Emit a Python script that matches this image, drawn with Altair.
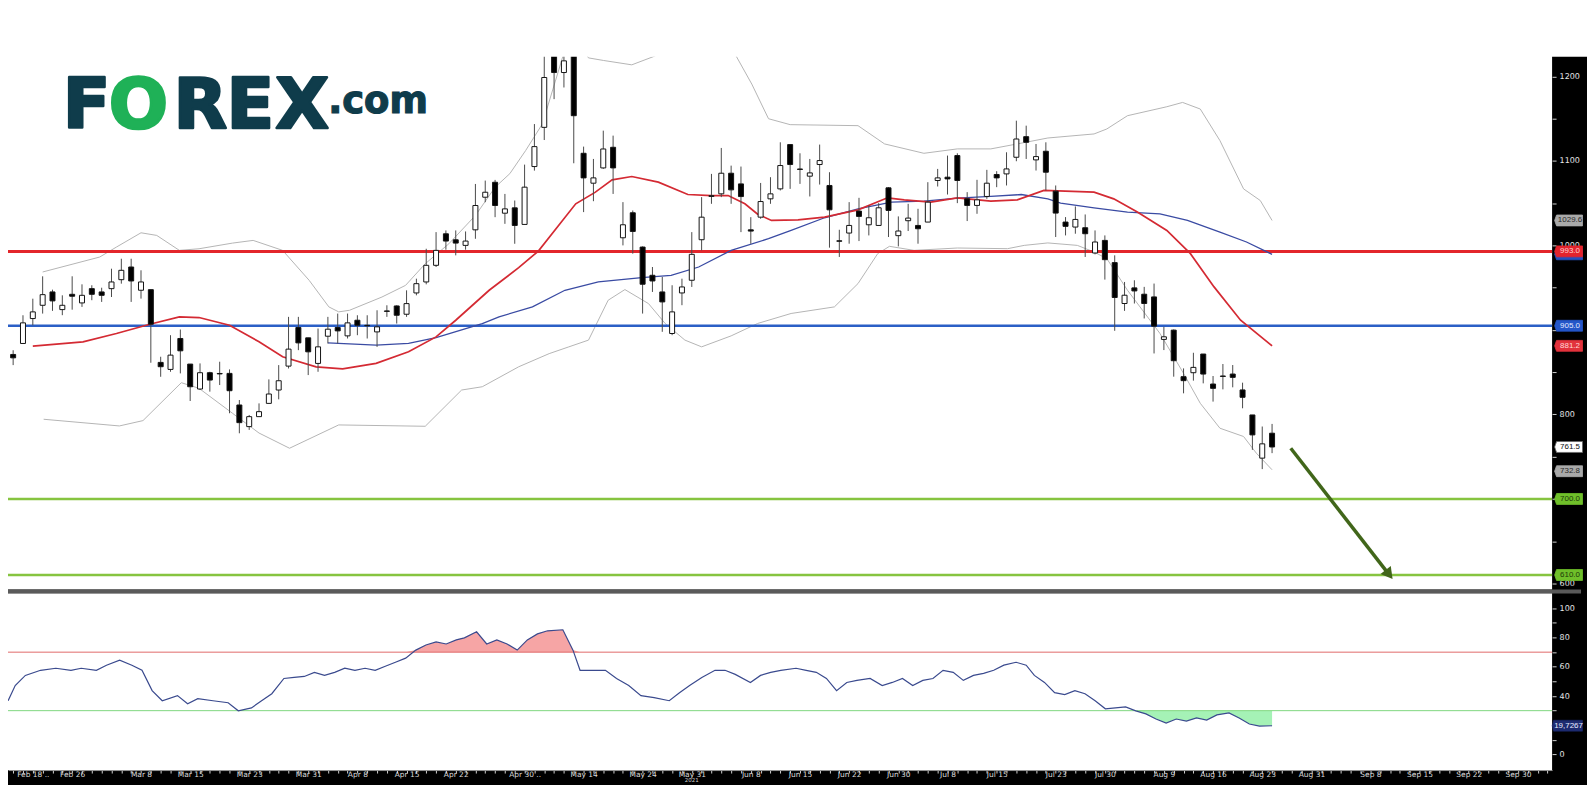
import json
import altair as alt
import pandas as pd

# ---------------- data ----------------
opens = [844.6, 871.0, 884.0, 913.5, 929.2, 945.0, 924.1, 942.2, 932.0, 948.9,
         945.0, 948.9, 959.5, 974.5, 947.0, 947.7, 861.6, 853.3, 889.9, 859.6,
         830.1, 849.4, 848.5, 848.6, 811.2, 785.6, 797.4, 813.1, 828.9, 857.2,
         902.9, 890.7, 860.4, 892.6, 902.9, 893.0, 911.5, 905.5, 897.7, 922.5,
         928.4, 918.6, 943.8, 956.8, 976.5, 1013.8, 1006.7, 1000.1, 1018.5, 1057.1,
         1074.8, 1038.2, 1044.5, 1024.9, 1093.4, 1139.8, 1232.0, 1204.7, 1232.0, 1109.1,
         1073.7, 1091.8, 1116.2, 1009.1, 1038.7, 998.1, 964.7, 945.0, 895.8, 943.8,
         958.8, 1006.8, 1058.0, 1061.1, 1085.5, 1072.9, 1018.5, 1033.5, 1055.2, 1067.0,
         1119.4, 1090.5, 1082.0, 1095.8, 1071.0, 1005.5, 1014.7, 1040.7, 1024.5, 1023.7,
         1068.2, 1011.6, 1029.3, 1023.7, 1027.7, 1076.9, 1080.8, 1106.4, 1055.2, 1047.4,
         1058.0, 1084.0, 1084.7, 1104.4, 1128.8, 1101.3, 1111.5, 1064.3, 1027.7, 1021.8,
         1021.0, 991.1, 1006.0, 979.7, 931.3, 949.8, 942.3, 939.1, 888.8, 899.8,
         844.7, 849.4, 871.5, 836.0, 845.5, 847.8, 829.0, 799.4, 748.3, 777.8]
highs = [876.1, 876.0, 917.4, 937.0, 963.5, 947.7, 941.0, 963.5, 954.0, 952.9,
         950.0, 972.5, 984.3, 984.3, 970.6, 947.7, 868.3, 893.8, 900.5, 859.6,
         860.4, 850.5, 862.4, 853.3, 817.1, 799.4, 813.1, 841.5, 858.4, 915.5,
         915.5, 890.7, 901.7, 915.5, 919.4, 919.4, 917.4, 917.4, 923.3, 929.2,
         929.2, 946.9, 960.7, 996.1, 1015.8, 1017.8, 1017.8, 1016.6, 1072.8, 1076.8,
         1077.6, 1061.0, 1053.2, 1095.7, 1143.7, 1240.0, 1245.0, 1240.0, 1245.0, 1117.0,
         1102.4, 1135.9, 1130.0, 1051.3, 1041.4, 998.9, 974.5, 962.7, 952.9, 960.7,
         1015.8, 1057.2, 1084.7, 1115.4, 1094.5, 1093.4, 1033.5, 1074.0, 1080.8, 1122.1,
         1119.4, 1109.1, 1102.4, 1119.4, 1086.7, 1018.6, 1051.3, 1056.4, 1047.4, 1050.1,
         1069.0, 1034.4, 1049.3, 1043.4, 1074.9, 1090.6, 1106.4, 1109.1, 1063.1, 1077.7,
         1089.5, 1087.9, 1110.3, 1147.7, 1141.8, 1120.1, 1122.1, 1071.0, 1033.6, 1046.2,
         1036.7, 1017.8, 1011.9, 988.3, 956.8, 958.8, 951.0, 954.9, 903.7, 900.6,
         854.5, 873.0, 871.5, 845.5, 859.7, 858.5, 837.6, 799.4, 785.7, 788.8]
lows = [842.7, 858.4, 884.0, 905.6, 919.4, 922.6, 917.5, 924.0, 927.3, 935.2,
        933.2, 939.0, 954.8, 933.2, 937.1, 861.2, 844.6, 850.5, 848.6, 815.9,
        828.9, 827.0, 834.8, 801.4, 777.7, 781.7, 797.4, 813.1, 817.9, 854.4,
        876.1, 846.6, 850.5, 884.0, 884.0, 889.9, 893.8, 889.9, 880.0, 915.5,
        907.6, 915.5, 941.0, 954.0, 974.5, 995.0, 988.3, 995.0, 1007.9, 1051.2,
        1033.5, 1025.6, 1002.0, 1024.9, 1088.6, 1124.8, 1173.2, 1187.0, 1097.3, 1039.5,
        1052.4, 1090.6, 1061.0, 1000.1, 990.3, 919.4, 945.0, 897.8, 893.8, 929.3,
        950.9, 994.2, 1049.3, 1057.2, 1049.3, 1015.8, 1002.0, 1031.6, 1049.3, 1065.1,
        1067.0, 1072.9, 1058.0, 1072.1, 997.4, 986.4, 1002.1, 1005.2, 1011.9, 1023.7,
        1010.0, 998.9, 1017.1, 1002.1, 1027.7, 1069.8, 1060.3, 1050.1, 1028.9, 1037.5,
        1055.2, 1069.0, 1071.0, 1099.7, 1102.4, 1088.7, 1065.1, 1010.0, 1011.9, 1013.9,
        986.4, 989.5, 959.6, 899.0, 922.6, 931.3, 913.6, 872.2, 876.2, 844.7,
        825.0, 840.0, 836.8, 815.2, 829.7, 832.1, 807.3, 758.1, 735.3, 754.2]
closes = [860.4, 867.0, 908.4, 921.4, 941.8, 934.4, 929.2, 939.9, 941.0, 942.2,
          941.0, 956.8, 970.6, 958.0, 956.8, 906.8, 856.5, 870.2, 875.3, 832.8,
          849.4, 840.7, 848.0, 828.1, 790.3, 797.4, 803.3, 824.2, 839.9, 877.3,
          884.7, 874.1, 880.0, 900.9, 898.9, 908.4, 905.6, 905.0, 903.7, 922.0,
          917.4, 931.2, 954.8, 976.5, 994.2, 1005.2, 1002.8, 1005.2, 1047.3, 1063.0,
          1047.3, 1043.3, 1023.7, 1069.0, 1117.0, 1198.8, 1204.7, 1218.5, 1153.6, 1080.0,
          1080.0, 1114.2, 1091.8, 1024.5, 1016.6, 954.1, 958.0, 933.2, 921.4, 950.9,
          989.5, 1033.5, 1059.0, 1085.5, 1065.8, 1057.9, 1017.0, 1052.0, 1061.1, 1094.6,
          1095.8, 1090.0, 1085.9, 1100.5, 1042.2, 1005.0, 1023.7, 1034.4, 1032.8, 1044.6,
          1041.5, 1017.1, 1032.4, 1019.8, 1051.3, 1080.0, 1078.8, 1076.9, 1047.4, 1054.0,
          1073.7, 1080.0, 1090.6, 1126.0, 1122.1, 1105.2, 1086.7, 1038.3, 1022.6, 1030.8,
          1013.9, 1004.1, 983.2, 938.4, 941.1, 946.2, 931.3, 904.5, 891.9, 863.6,
          840.0, 855.7, 847.8, 830.9, 845.0, 843.9, 820.3, 775.8, 765.2, 761.5]

# Bollinger bands (bar-index, price)
ub_x = [4.0, 9.8, 11.5, 14.0, 15.6, 17.9, 19.9, 23.3, 25.4, 28.4, 31.1, 33.1, 34.1, 35.2, 38.5,
        40.9, 42.9, 45.3, 48.0, 50.0, 51.5, 53.1, 54.8, 56.5, 57.3, 58.5, 59.5, 61.0, 63.9, 66.3,
        67.5, 73.5, 74.5, 76.1, 77.8, 80.0, 86.9, 89.6, 93.6, 97.0, 100.4, 103.1, 106.2, 110.9,
        112.2, 114.3, 118.3, 119.9, 121.7, 123.7, 126.1, 127.8, 129.0]
ub_y = [968.6, 986.3, 998.1, 1015.0, 1011.9, 994.2, 996.1, 1002.8, 1006.0, 994.2, 958.7, 927.3,
        921.4, 923.3, 939.0, 952.8, 978.4, 1002.0, 1035.5, 1068.9, 1085.0, 1112.2, 1143.7, 1208.7,
        1240.0, 1240.0, 1222.0, 1219.0, 1213.8, 1224.4, 1250.0, 1250.0, 1224.4, 1191.0, 1150.0,
        1143.0, 1141.8, 1120.2, 1109.1, 1114.3, 1114.3, 1120.2, 1127.2, 1132.0, 1137.9, 1153.6,
        1164.2, 1169.3, 1161.5, 1124.1, 1067.0, 1053.2, 1029.6]
lb_x = [4.1, 11.8, 14.2, 18.1, 19.9, 23.3, 26.0, 29.1, 34.1, 42.9, 46.6, 48.7, 52.4, 55.5, 57.5,
        59.5, 61.5, 63.2, 65.6, 67.3, 69.3, 71.0, 74.0, 76.7, 80.1, 84.5, 86.9, 88.9, 90.1, 92.6,
        97.0, 102.1, 103.8, 106.2, 109.2, 110.9, 112.2, 114.3, 117.6, 120.0, 121.7, 123.7, 126.1,
        127.4, 129.0]
lb_y = [794.3, 786.4, 792.7, 837.6, 830.9, 801.4, 778.0, 760.0, 787.6, 786.0, 828.9, 832.8, 856.4,
        872.0, 880.0, 888.0, 935.2, 947.8, 931.2, 907.6, 888.0, 880.0, 893.0, 907.7, 919.5, 927.3,
        954.9, 990.3, 999.0, 994.2, 997.0, 996.2, 1000.1, 1003.0, 1000.1, 992.3, 984.4, 947.0,
        895.9, 848.6, 813.2, 783.7, 773.9, 754.2, 734.5]

# moving averages
ma20_x = [3.0, 8.1, 11.5, 14.9, 17.9, 19.9, 23.0, 26.0, 28.4, 31.8, 34.5, 37.9, 41.2, 44.0, 46.0,
          49.4, 52.4, 54.4, 58.2, 60.2, 61.9, 63.9, 66.6, 69.6, 72.0, 73.7, 75.4, 76.7, 78.1, 80.8,
          83.5, 86.9, 89.9, 91.6, 94.3, 97.0, 100.4, 103.1, 105.8, 110.9, 112.9, 115.3, 118.3,
          120.7, 123.1, 125.8, 129.0]
ma20_y = [880.8, 886.0, 895.8, 906.8, 915.5, 914.7, 905.6, 886.0, 868.2, 856.4, 854.0, 860.4,
          874.1, 891.8, 911.5, 947.0, 973.7, 993.4, 1049.3, 1063.1, 1077.6, 1081.6, 1074.9, 1060.3,
          1059.1, 1059.1, 1049.3, 1037.0, 1029.6, 1030.4, 1033.6, 1042.2, 1056.4, 1054.0, 1051.3,
          1056.4, 1052.5, 1054.0, 1065.1, 1063.1, 1055.2, 1039.5, 1017.8, 990.3, 951.0, 911.6, 881.2]
ma50_x = [33.0, 37.9, 41.2, 44.0, 48.7, 50.4, 53.8, 57.1, 60.5, 64.9, 67.9, 70.7, 74.0, 77.8, 80.1,
          83.5, 86.9, 90.3, 93.6, 97.0, 100.4, 103.5, 106.2, 107.5, 110.9, 114.3, 117.6, 120.4,
          123.7, 126.4, 129.0]
ma50_y = [884.8, 882.0, 884.0, 891.0, 907.6, 915.5, 927.3, 947.0, 956.8, 961.9, 964.7, 974.5,
          994.2, 1008.0, 1017.8, 1032.8, 1043.4, 1051.3, 1052.5, 1056.0, 1058.0, 1060.3, 1055.2,
          1050.1, 1044.6, 1039.5, 1037.5, 1029.6, 1015.9, 1004.1, 989.5]

# RSI
rsi_x = [-0.3, 0.49, 1.21, 2.24, 3.79, 5.34, 6.88, 7.92, 9.46, 10.49,
         11.83, 13.07, 14.10, 15.13, 16.16, 17.71, 18.74, 19.77, 21.32, 22.86,
         23.89, 25.23, 26.26, 27.30, 28.53, 29.57, 30.60, 31.63, 32.66, 33.69,
         34.72, 35.75, 36.78, 37.81, 38.84, 39.87, 40.91, 41.94, 42.97, 44.00,
         45.03, 46.06, 46.88, 48.12, 49.15, 50.18, 51.22, 52.25, 53.28, 54.31,
         55.34, 56.89, 57.92, 58.64, 59.98, 61.22, 62.35, 63.59, 64.83, 66.17,
         67.71, 68.75, 69.78, 71.02, 72.36, 73.38, 74.42, 75.96, 76.99, 78.02,
         79.05, 80.60, 81.63, 82.66, 83.69, 84.72, 85.76, 86.79, 88.13, 89.36,
         90.39, 91.42, 92.46, 93.49, 94.52, 95.55, 96.58, 97.61, 98.64, 99.67,
         100.70, 101.73, 102.97, 104.00, 104.83, 105.86, 106.89, 107.92, 108.95, 109.98,
         111.01, 112.05, 113.08, 114.11, 115.14, 116.17, 117.20, 118.23, 119.26, 120.29,
         121.32, 122.35, 123.39, 124.62, 125.65, 126.69, 127.72, 129.0]
rsi_y = [33.3, 36.8, 47.2, 54.1, 57.6, 59.0, 57.6, 59.0, 57.6, 61.1,
         64.5, 61.1, 57.6, 43.7, 36.8, 40.3, 34.7, 38.2, 36.8, 35.4,
         29.9, 31.9, 36.8, 41.6, 52.0, 52.7, 53.4, 56.2, 54.1, 56.2,
         59.0, 57.6, 59.0, 57.6, 60.4, 63.1, 65.9, 71.4, 74.9, 77.0,
         75.6, 78.4, 79.8, 83.9, 75.6, 78.4, 75.6, 71.4, 78.4, 82.5,
         84.6, 85.3, 71.4, 57.6, 57.6, 57.6, 52.0, 47.2, 40.3, 38.9,
         36.8, 42.3, 47.2, 52.7, 57.6, 57.6, 54.8, 49.3, 54.1, 56.2,
         57.6, 59.0, 57.6, 56.2, 52.0, 43.7, 49.3, 50.7, 52.0, 47.2,
         49.3, 52.0, 47.2, 50.7, 52.0, 57.6, 56.2, 50.7, 54.1, 55.5,
         57.6, 61.1, 63.1, 61.1, 54.1, 49.3, 42.3, 41.0, 43.7, 41.6,
         36.8, 31.3, 31.9, 32.6, 29.9, 27.8, 24.3, 21.5, 24.3, 22.9,
         25.0, 23.6, 27.1, 28.5, 25.0, 20.9, 19.5, 19.7]
rsi_levels = [70, 30]
rsi_last = 19.7267

# horizontal price levels
level_red = [993.0]
level_blue = [905.0]
level_green = [700.0, 610.0]

# right-axis value tags
tag_values = [1029.6, 989.5, 993.0, 905.0, 881.2, 761.5, 732.8, 700.0, 610.0]
tag_texts = ["1029.6", "", "993.0", "905.0", "881.2", "761.5", "732.8", "700.0", "610.0"]

# arrow annotation (bar-index, price)
arrow_x = [130.9, 140.9]
arrow_y = [760.0, 610.5]

# date axis
date_label_idx = [3, 7, 14, 19, 25, 31, 36, 41, 46, 53, 59, 65, 70, 76, 81, 86, 91, 96, 101,
                  107, 112, 118, 123, 128, 133, 139, 144, 149, 154]
date_labels = ["Feb 18 ..", "Feb 26", "Mar 8", "Mar 15", "Mar 23", "Mar 31", "Apr 8", "Apr 15",
               "Apr 22", "Apr 30 ..", "May 14", "May 24", "May 31", "Jun 8", "Jun 15", "Jun 22",
               "Jun 30", "Jul 8", "Jul 15", "Jul 23", "Jul 30", "Aug 9", "Aug 16", "Aug 23",
               "Aug 31", "Sep 8", "Sep 15", "Sep 22", "Sep 30"]
year_idx = [70]
year_label = ["2021"]

logo_letters = ["F", "O", "R", "E", "X"]
logo_suffix = ".com"

# ---------------- layout ----------------
W = 1548
H_PRICE = 582
H_RSI = 177
STRIP = 31
DATE_STRIP = 13
TOP_BLANK = 48
BLEED = 6
X_DOMAIN = [0.477, 157.47]
PRICE_DOMAIN = [592.8, 1279.9]
RSI_DOMAIN = [-10.6, 110.1]
AXFONT = "DejaVu Sans"

xs = alt.Scale(domain=X_DOMAIN, nice=False, zero=False, padding=0)
ps = alt.Scale(domain=PRICE_DOMAIN, nice=False, zero=False, padding=0)
rs = alt.Scale(domain=RSI_DOMAIN, nice=False, zero=False, padding=0)

price_axis = alt.Axis(orient="right", values=list(range(600, 1201, 50)), format="d",
                      labelExpr="(datum.value % 100 == 0 && datum.value != 900 && datum.value != 700) ? datum.label : ''",
                      grid=False, domain=False, tickColor="#d0d0d0", tickSize=4,
                      labelColor="#e6e6e6", labelFont=AXFONT, labelFontSize=8,
                      labelPadding=3, labelOverlap=False, labelFlush=False,
                      minExtent=STRIP, maxExtent=STRIP, title=None)
rsi_axis = alt.Axis(orient="right", values=list(range(0, 101, 10)), format="d",
                    labelExpr="(datum.value % 20 == 0 && datum.value != 20) ? datum.label : ''",
                    grid=False, domain=False, tickColor="#d0d0d0", tickSize=4,
                    labelColor="#e6e6e6", labelFont=AXFONT, labelFontSize=8,
                    labelPadding=3, labelOverlap=False, labelFlush=False,
                    minExtent=STRIP, maxExtent=STRIP, title=None)
idx_js = json.dumps(date_label_idx)
lab_js = json.dumps(date_labels)
x_axis = alt.Axis(orient="bottom", values=list(range(1, 158)),
                  labelExpr=f"indexof({idx_js}, datum.value) >= 0 ? {lab_js}[indexof({idx_js}, datum.value)] : ''",
                  grid=False, domain=True, domainColor="#9a9a9a", tickColor="#cfcfcf", tickSize=3,
                  labelColor="#dcdcdc", labelFont=AXFONT, labelFontSize=7.5, labelPadding=-3,
                  labelOverlap=False, labelFlush=False, minExtent=DATE_STRIP, maxExtent=DATE_STRIP,
                  title=None)


def PX(f="i"):
    return alt.X(f"{f}:Q", scale=xs, axis=None)


def PY(f):
    return alt.Y(f"{f}:Q", scale=ps, axis=price_axis)


def RX(f="i"):
    return alt.X(f"{f}:Q", scale=xs, axis=x_axis)


def RY(f):
    return alt.Y(f"{f}:Q", scale=rs, axis=rsi_axis)


one = pd.DataFrame({"k": [0]})
candles = pd.DataFrame({"i": list(range(len(opens))), "o": opens, "h": highs, "l": lows, "c": closes})
VISIBLE = "datum.i >= 0.8"


def series(xv, yv, color, width):
    df = pd.DataFrame({"i": xv, "v": yv})
    return alt.Chart(df).mark_line(color=color, strokeWidth=width, clip=True).encode(x=PX(), y=PY("v"))


def level(vals, color, width):
    return alt.Chart(pd.DataFrame({"v": vals})).mark_rule(color=color, strokeWidth=width).encode(y=PY("v"))


price_layers = []
price_layers.append(series(ub_x, ub_y, "#b5b5b5", 1))
price_layers.append(series(lb_x, lb_y, "#b5b5b5", 1))
price_layers.append(level(level_red, "#e3262b", 3))
price_layers.append(level(level_blue, "#2b5fc6", 2.5))
price_layers.append(level(level_green, "#86c440", 2.5))
price_layers.append(series(ma50_x, ma50_y, "#3a4ba3", 1.3))
price_layers.append(series(ma20_x, ma20_y, "#d42a33", 1.7))
price_layers.append(alt.Chart(candles).transform_filter(VISIBLE).mark_rule(
    color="#4a4a4a", strokeWidth=1, clip=True).encode(x=PX(), y=PY("l"), y2=alt.Y2("h:Q")))
price_layers.append(alt.Chart(candles).transform_filter(VISIBLE).mark_bar(
    size=5, stroke="#151515", strokeWidth=1, clip=True).encode(
    x=PX(), y=PY("o"), y2=alt.Y2("c:Q"),
    fill=alt.condition("datum.c >= datum.o", alt.value("white"), alt.value("black"))))

# arrow
arr = pd.DataFrame({"i": arrow_x, "v": arrow_y})
price_layers.append(alt.Chart(arr).mark_line(color="#41661a", strokeWidth=3.5).encode(x=PX(), y=PY("v")))
price_layers.append(alt.Chart(arr.tail(1)).mark_point(shape="triangle-up", angle=142, size=170, filled=True,
                                                      color="#41661a", opacity=1).encode(x=PX(), y=PY("v")))

# white area above the chart (bleeds a little outside so the page edge stays white)
price_layers.append(alt.Chart(one).mark_rect(color="white").encode(
    x=alt.value(-BLEED), x2=alt.value(W + STRIP + 4), y=alt.value(-BLEED), y2=alt.value(TOP_BLANK)))
price_layers.append(alt.Chart(one).mark_rect(color="white").encode(
    x=alt.value(-BLEED), x2=alt.value(0), y=alt.value(-BLEED), y2=alt.value(H_PRICE)))
# separator between panels
price_layers.append(alt.Chart(one).mark_rule(color="#5a5a5a", strokeWidth=4).encode(
    x=alt.value(0), x2=alt.value(W + STRIP - 2), y=alt.value(H_PRICE + 2)))

# tags on the right axis
TAG_PATH = "M-1.15,0 L-1,-0.42 L1,-0.42 L1,0.42 L-1,0.42 Z"
tag_styles = [("#a9a9a9", "#2a2a2a", "#a9a9a9"),
              ("#2450c0", "#ffffff", "#2450c0"),
              ("#e3232c", "#ffd0d0", "#e3232c"),
              ("#2456c8", "#e0e8ff", "#2456c8"),
              ("#e2323c", "#ffd6d6", "#e2323c"),
              ("#ffffff", "#111111", "#666666"),
              ("#a9a9a9", "#2a2a2a", "#a9a9a9"),
              ("#6fbf2a", "#1c3a08", "#6fbf2a"),
              ("#6fbf2a", "#1c3a08", "#6fbf2a")]
TAG_CX = W + 17.5
for v, t, (fill, tc, st) in zip(tag_values, tag_texts, tag_styles):
    d = pd.DataFrame({"v": [v], "t": [t]})
    price_layers.append(alt.Chart(d).mark_point(shape=TAG_PATH, size=676, filled=True, fill=fill,
                                                stroke=st, strokeWidth=0.8, opacity=1).encode(
        x=alt.value(TAG_CX), y=PY("v")))
    if t:
        price_layers.append(alt.Chart(d).mark_text(font="Liberation Sans", fontSize=8, color=tc,
                                                   align="center", baseline="middle").encode(
            x=alt.value(TAG_CX + 0.5), y=PY("v"), text="t:N"))

# logo
LOGO_DARK = "#0f3c4b"
LOGO_GREEN = "#1fb157"
LOGO_FONT = "DejaVu Sans"
letter_x = [55, 101, 166, 219, 268]
for ch, lx in zip(logo_letters, letter_x):
    col = LOGO_GREEN if ch == "O" else LOGO_DARK
    price_layers.append(alt.Chart(one).mark_text(text=ch, font=LOGO_FONT, fontWeight="bold", fontSize=70,
                                                 color=col, stroke=col, strokeWidth=2.5, strokeJoin="round",
                                                 align="left", baseline="alphabetic").encode(
        x=alt.value(lx), y=alt.value(119)))
price_layers.append(alt.Chart(one).mark_text(text=logo_suffix, font=LOGO_FONT, fontWeight="bold", fontSize=37,
                                             color=LOGO_DARK, stroke=LOGO_DARK, strokeWidth=1.2,
                                             align="left", baseline="alphabetic").encode(
    x=alt.value(321), y=alt.value(104)))

price_chart = alt.layer(*price_layers).properties(width=W, height=H_PRICE)

# ---------------- RSI panel ----------------
rsi_df = pd.DataFrame({"i": rsi_x, "r": rsi_y})
RVIS = "datum.i >= 0.45"
rsi_layers = [
    alt.Chart(rsi_df).transform_filter(RVIS).transform_calculate(hi="max(datum.r, 70)", base="70").mark_area(
        color="#f6a5a5", opacity=1, clip=True).encode(x=RX(), y=RY("hi"), y2=alt.Y2("base:Q")),
    alt.Chart(rsi_df).transform_filter(RVIS).transform_calculate(lo="min(datum.r, 30)", base="30").mark_area(
        color="#a5f2b6", opacity=1, clip=True).encode(x=RX(), y=RY("lo"), y2=alt.Y2("base:Q")),
    alt.Chart(pd.DataFrame({"v": rsi_levels[:1]})).mark_rule(color="#e06a6a", strokeWidth=1).encode(y=RY("v")),
    alt.Chart(pd.DataFrame({"v": rsi_levels[1:]})).mark_rule(color="#7fd77f", strokeWidth=1).encode(y=RY("v")),
    alt.Chart(rsi_df).transform_filter(RVIS).mark_line(color="#3a4a8e", strokeWidth=1.2, clip=True).encode(
        x=RX(), y=RY("r")),
]
rd = pd.DataFrame({"v": [rsi_last], "t": [f"{rsi_last:.4f}".replace(".", ",")]})
rsi_layers.append(alt.Chart(rd).mark_point(shape="M-1.1,0 L-1,-0.38 L1,-0.38 L1,0.38 L-1,0.38 Z",
                                           size=841, filled=True, fill="#1d2b70", stroke="#1d2b70",
                                           strokeWidth=0.5, opacity=1).encode(x=alt.value(W + 16), y=RY("v")))
rsi_layers.append(alt.Chart(rd).mark_text(font="Liberation Sans", fontSize=8, color="#e8ecff",
                                          align="center", baseline="middle").encode(
    x=alt.value(W + 16.5), y=RY("v"), text="t:N"))
yr = pd.DataFrame({"i": year_idx, "t": year_label})
rsi_layers.append(alt.Chart(yr).mark_text(font=AXFONT, fontSize=5.5, color="#cfcfcf",
                                          align="center", baseline="bottom").encode(
    x=RX(), y=alt.value(H_RSI + DATE_STRIP), text="t:N"))

rsi_chart = alt.layer(*rsi_layers).properties(width=W, height=H_RSI)

chart = alt.vconcat(price_chart, rsi_chart, spacing=4, bounds="flush").properties(
    background="black",
    padding={"left": -BLEED, "top": -BLEED, "right": 0, "bottom": 0},
).configure_view(fill="white", stroke="transparent", strokeWidth=0)

chart.save("out.html", embed_options={"renderer": "svg", "actions": False})
